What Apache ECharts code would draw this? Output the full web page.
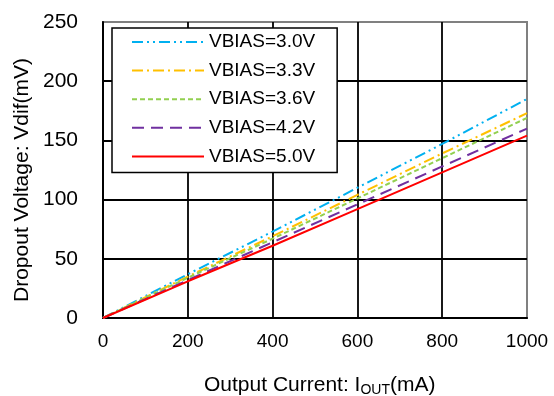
<!DOCTYPE html>
<html>
<head>
<meta charset="utf-8">
<script src="https://cdn.jsdelivr.net/npm/echarts@6/dist/echarts.min.js"></script>
<style>
  html, body { margin: 0; padding: 0; background: #fff; }
  #chart { width: 554px; height: 396px; }
</style>
</head>
<body>
<div id="chart"></div>
<script>
const currents = [0, 200, 400, 600, 800, 1000];
const seriesNames = ["VBIAS=3.0V", "VBIAS=3.3V", "VBIAS=3.6V", "VBIAS=4.2V", "VBIAS=5.0V"];
const vbias30 = [0, 37, 73, 110, 147, 185];
const vbias33 = [0, 35, 69, 104, 139, 173];
const vbias36 = [0, 34, 67, 101, 135, 169];
const vbias42 = [0, 32, 64, 96, 128, 160];
const vbias50 = [0, 31, 61, 92, 123, 154];
const xTicks = [0, 200, 400, 600, 800, 1000];
const yTicks = [0, 50, 100, 150, 200, 250];

const colors = ["#00B0F0", "#FFC000", "#92D050", "#7030A0", "#FF0000"];
const dashes = [[11, 4, 2, 4, 2, 4], [11, 4, 2, 4], [5, 3], [12, 7], "solid"];
const values = [vbias30, vbias33, vbias36, vbias42, vbias50];

const font = "Liberation Sans, Arial, sans-serif";
const chart = echarts.init(document.getElementById("chart"));

const option = {
  animation: false,
  grid: {
    left: 103, right: 27, top: 22, bottom: 78,
    show: true, borderColor: "#808080", borderWidth: 2
  },
  legend: {
    orient: "vertical",
    left: 112, top: 28,
    padding: [4, 22, 6, 19],
    itemWidth: 72, itemHeight: 20, itemGap: 8.6,
    backgroundColor: "#fff",
    borderColor: "#000", borderWidth: 1.5,
    itemStyle: { opacity: 0 },
    data: seriesNames,
    textStyle: { fontFamily: font, fontSize: 19, color: "#000", lineHeight: 20 }
  },
  xAxis: {
    type: "value",
    min: xTicks[0], max: xTicks[xTicks.length - 1], interval: 200,
    axisLine: { lineStyle: { color: "#000", width: 2 } },
    axisTick: { show: false },
    axisLabel: { fontFamily: font, fontSize: 19, color: "#000", margin: 14, formatter: (v) => String(v) },
    splitLine: { show: true, showMaxLine: false, lineStyle: { color: "#000", width: 1.8 } }
  },
  yAxis: {
    type: "value",
    min: yTicks[0], max: yTicks[yTicks.length - 1], interval: 50,
    axisLine: { show: true, lineStyle: { color: "#000", width: 2 } },
    axisTick: { show: false },
    axisLabel: { fontFamily: font, fontSize: 21, color: "#000", margin: 25 },
    splitLine: { show: true, showMaxLine: false, lineStyle: { color: "#000", width: 1.8 } }
  },
  graphic: [
    {
      type: "text",
      x: 22, y: 180, rotation: Math.PI / 2,
      style: {
        text: "Dropout Voltage: Vdif(mV)",
        fontFamily: font, fontSize: 21, fill: "#000",
        align: "center", verticalAlign: "middle"
      }
    },
    {
      type: "text",
      x: 204, y: 385,
      style: {
        text: "Output Current: I{sub|OUT}(mA)",
        fontFamily: font, fontSize: 21, fill: "#000",
        align: "left", verticalAlign: "middle",
        rich: {
          sub: { fontFamily: font, fontSize: 14, fill: "#000", padding: [10, 0, 0, 0] }
        }
      }
    }
  ],
  series: seriesNames.map((name, i) => ({
    name: name,
    type: "line",
    showSymbol: false,
    symbol: "none",
    color: colors[i],
    lineStyle: { color: colors[i], width: 2, type: dashes[i] },
    data: currents.map((x, j) => [x, values[i][j]])
  }))
};

chart.setOption(option);
</script>
</body>
</html>
